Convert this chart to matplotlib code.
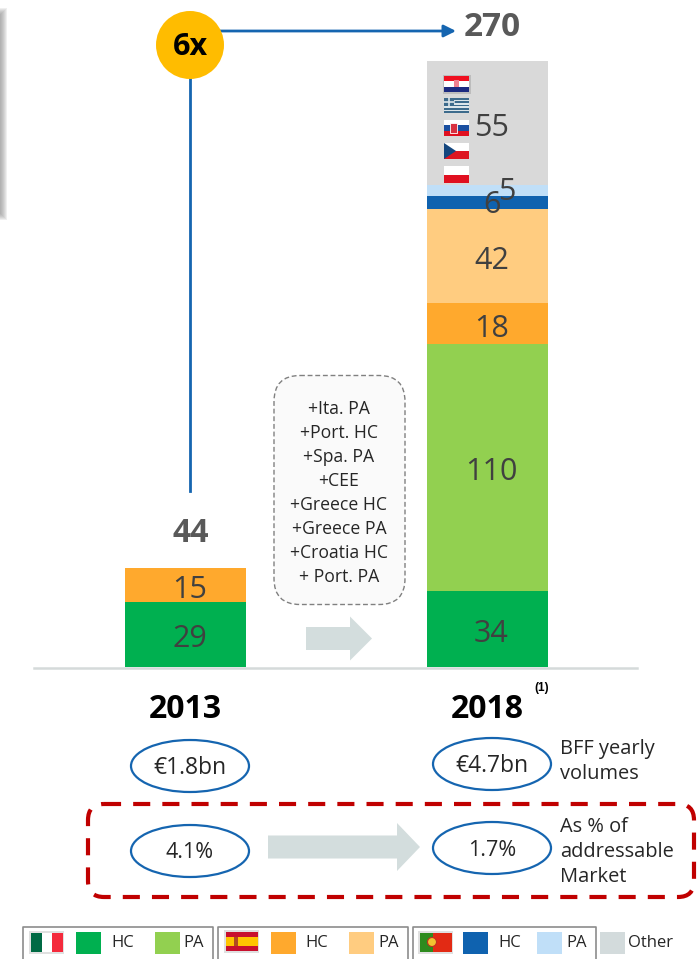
import matplotlib
matplotlib.use("Agg")
import matplotlib.pyplot as plt
from matplotlib.patches import Rectangle, Ellipse, Circle, FancyBboxPatch, Polygon

plt.rcParams['font.family'] = ['Open Sans', 'DejaVu Sans']

years = ["2013", "2018"]
totals = [44, 270]
segments_2013 = [29, 15]
segments_2018 = [34, 110, 18, 42, 6, 5, 55]
colors_2013 = ["#00B050", "#FFA92D"]
colors_2018 = ["#00B050", "#92D050", "#FFA92D", "#FFCC80", "#0F62AF", "#C0DFF8", "#D9D9D9"]
volumes = ["€1.8bn", "€4.7bn"]
shares = ["4.1%", "1.7%"]
multiple = "6x"
added_lines = ["+Ita. PA", "+Port. HC", "+Spa. PA", "+CEE", "+Greece HC",
               "+Greece PA", "+Croatia HC", "+ Port. PA"]

DARK = "#404040"
BLUE = "#1565B0"
ARROW = "#D3DDDD"

W, H = 697, 959
fig = plt.figure(figsize=(W / 100, H / 100), dpi=100, facecolor="white")

# bars sit on the baseline at y=667 px, 2.244 px per unit
ax = fig.add_axes([0, (H - 667) / H, 1, 667 / H])
ax.set_xlim(-185.5 / 302, (W - 185.5) / 302)
ax.set_ylim(0, 667 / 2.244)
ax.axis("off")

# overlay in pixel coordinates for the annotations
ov = fig.add_axes([0, 0, 1, 1], zorder=3)
ov.set_xlim(0, W)
ov.set_ylim(H, 0)
ov.axis("off")
ov.patch.set_alpha(0)


def stack(pos, values, colors, skip=()):
    bottom = 0
    for i, (v, c) in enumerate(zip(values, colors)):
        ax.bar(pos, v, width=0.4, bottom=bottom, color=c, linewidth=0)
        if i not in skip:
            ax.text(pos + 0.013, bottom + v / 2 - 2.2, str(v), ha="center", va="center",
                    fontsize=22, color=DARK)
        bottom += v


stack(0, segments_2013, colors_2013)
stack(1, segments_2018, colors_2018, skip=(4, 5))
# the two thin Portuguese segments get offset labels
ov.text(492, 205, str(segments_2018[4]), ha="center", va="center", fontsize=22, color=DARK)
ov.text(507, 192, str(segments_2018[5]), ha="center", va="center", fontsize=22, color=DARK)

ov.plot([34, 637], [667.5, 667.5], color="#D5DADA", lw=1.8)

# totals and connector
ov.text(190.5, 534, str(totals[0]), ha="center", va="center", fontsize=23, fontweight="bold", color="#595959")
ov.text(492.5, 27, str(totals[1]), ha="center", va="center", fontsize=24, fontweight="bold", color="#595959")
ov.plot([190, 190], [75, 491], color=BLUE, lw=2)
ov.annotate("", xy=(456, 31), xytext=(218, 31),
            arrowprops=dict(arrowstyle="-|>", color=BLUE, lw=2, mutation_scale=18, shrinkA=0, shrinkB=0))
ov.add_patch(Circle((190, 45), 34, facecolor="#FFBC00", edgecolor="none", zorder=4))
ov.text(190.5, 47, multiple, ha="center", va="center", fontsize=22, fontweight="bold", color="black", zorder=5)

# soft edge on the left
for i in range(7):
    ov.add_patch(Rectangle((0, 8 + i), 7 - i, 212 - 2 * i, facecolor="#808080", alpha=0.12, edgecolor="none"))

# year labels
ov.text(185.5, 709, years[0], ha="center", va="center", fontsize=23, fontweight="bold", color="black")
ov.text(487.5, 709, years[1], ha="center", va="center", fontsize=23, fontweight="bold", color="black")
ov.text(542, 688, "(1)", ha="center", va="center", fontsize=8.5, fontweight="bold", family="Liberation Sans", color="black")

# additions callout
ov.add_patch(FancyBboxPatch((274, 375.5), 131, 229, boxstyle="round,pad=0,rounding_size=26",
                            facecolor="#FAFAFA", edgecolor="#808080", lw=1, linestyle=(0, (3.5, 2))))
for i, line in enumerate(added_lines):
    ov.text(339, 408.5 + i * 24.1, line, ha="center", va="center", fontsize=12.7, color="#262626")


def block_arrow(x0, x1, head_x, ymid, body, head):
    ov.add_patch(Polygon([(x0, ymid - body), (head_x, ymid - body), (head_x, ymid - head), (x1, ymid),
                          (head_x, ymid + head), (head_x, ymid + body), (x0, ymid + body)],
                         facecolor=ARROW, edgecolor="none"))


block_arrow(306, 372, 350, 638.5, 11.5, 22)
block_arrow(268, 420, 397, 847, 11.5, 24)

# volume and share ovals
for cx, cy, txt, fs in [(190, 766, volumes[0], 16.5), (492, 764, volumes[1], 16.5),
                        (190, 851, shares[0], 15.5), (492, 848, shares[1], 15.5)]:
    ov.add_patch(Ellipse((cx, cy), 118, 52, facecolor="white", edgecolor=BLUE, lw=1.6))
    ov.text(cx, cy + 2, txt, ha="center", va="center", fontsize=fs, color="#262626")

for y, txt in [(749, "BFF yearly"), (774, "volumes"), (827, "As % of"), (852, "addressable"), (877, "Market")]:
    ov.text(560, y, txt, ha="left", va="center", fontsize=14.4, color="#262626")

ov.add_patch(FancyBboxPatch((88, 804), 606, 93, boxstyle="round,pad=0,rounding_size=16",
                            facecolor="none", edgecolor="#C00000", lw=3, linestyle=(0, (4.1, 2.9))))


def flag(x0, y0, w, h, stripes, vertical=False):
    total = sum(s[0] for s in stripes)
    pos = 0
    for size, c in stripes:
        if vertical:
            ov.add_patch(Rectangle((x0 + pos / total * w, y0), size / total * w, h, facecolor=c, edgecolor="none"))
        else:
            ov.add_patch(Rectangle((x0, y0 + pos / total * h), w, size / total * h, facecolor=c, edgecolor="none"))
        pos += size


# country flags stacked in the grey segment
fx, fw = 444, 25
ov.add_patch(Rectangle((fx - 1.5, 74.5), fw + 3, 19, facecolor="#BDBDBD", edgecolor="none"))
flag(fx, 76, fw, 16, [(1, "#F01020"), (1, "white"), (1, "#1C2A80")])
ov.add_patch(Rectangle((fx + 10, 80), 5, 7, facecolor="#F08090", edgecolor="none"))
flag(fx, 98, fw, 15, [(1, "#3D6B8C"), (1, "#DDE6EA")] * 4 + [(1, "#3D6B8C")])
ov.add_patch(Rectangle((fx, 98), 10, 8, facecolor="#3D6B8C", edgecolor="none"))
ov.plot([fx + 5, fx + 5], [98, 106], color="#DDE6EA", lw=1.2)
ov.plot([fx, fx + 10], [102, 102], color="#DDE6EA", lw=1.2)
flag(fx, 120, fw, 16, [(1, "white"), (1, "#1A4FA0"), (1, "#E01020")])
ov.add_patch(Rectangle((fx + 6, 123), 7, 10, facecolor="#D83040", edgecolor="white", lw=0.6))
flag(fx, 143, fw, 16, [(1, "white"), (1, "#DD1520")])
ov.add_patch(Polygon([(fx, 143), (fx + 12, 151), (fx, 159)], facecolor="#14467E", edgecolor="none"))
flag(fx, 166, fw, 17, [(1, "white"), (1, "#E01020")])

# legend
for x0, x1 in [(23, 213), (218, 408), (413, 596)]:
    ov.plot([x0, x0, x1, x1], [959, 926.5, 926.5, 959], color="#8C8C8C", lw=1.2)

ov.add_patch(Rectangle((29, 931), 35, 23, facecolor="#E0E0E0", edgecolor="none"))
flag(31, 933, 32, 19, [(1, "#006A44"), (1, "white"), (1, "#F42A3C")], vertical=True)
ov.add_patch(Rectangle((224, 930), 35, 23, facecolor="#E0E0E0", edgecolor="none"))
flag(226, 932, 32, 19, [(1, "#C8102E"), (2, "#FFC400"), (1, "#C8102E")])
ov.add_patch(Rectangle((234, 937), 4, 9, facecolor="#B04A20", edgecolor="none"))
ov.add_patch(Rectangle((418, 931), 35, 23, facecolor="#E0E0E0", edgecolor="none"))
flag(420, 933, 32, 19, [(2, "#2E8B1E"), (3, "#E22A14")], vertical=True)
ov.add_patch(Circle((432, 942), 4.5, facecolor="#F2C230", edgecolor="#C03020", lw=0.8))

legend_swatches = [76, 155, 271, 349, 463, 537, 600]
legend_colors = ["#00B050", "#92D050", "#FFA92D", "#FFCC80", "#0F62AF", "#C0DFF8", "#D3DBDC"]
legend_names = ["HC", "PA", "HC", "PA", "HC", "PA", "Other"]
legend_text_x = [111, 183, 305, 378, 498, 566, 628]
for sx, c, name, tx in zip(legend_swatches, legend_colors, legend_names, legend_text_x):
    ov.add_patch(Rectangle((sx, 932), 25, 22, facecolor=c, edgecolor="none"))
    ov.text(tx, 943, name, ha="left", va="center", fontsize=12, color="#262626")

fig.savefig("out.png", dpi=100)
